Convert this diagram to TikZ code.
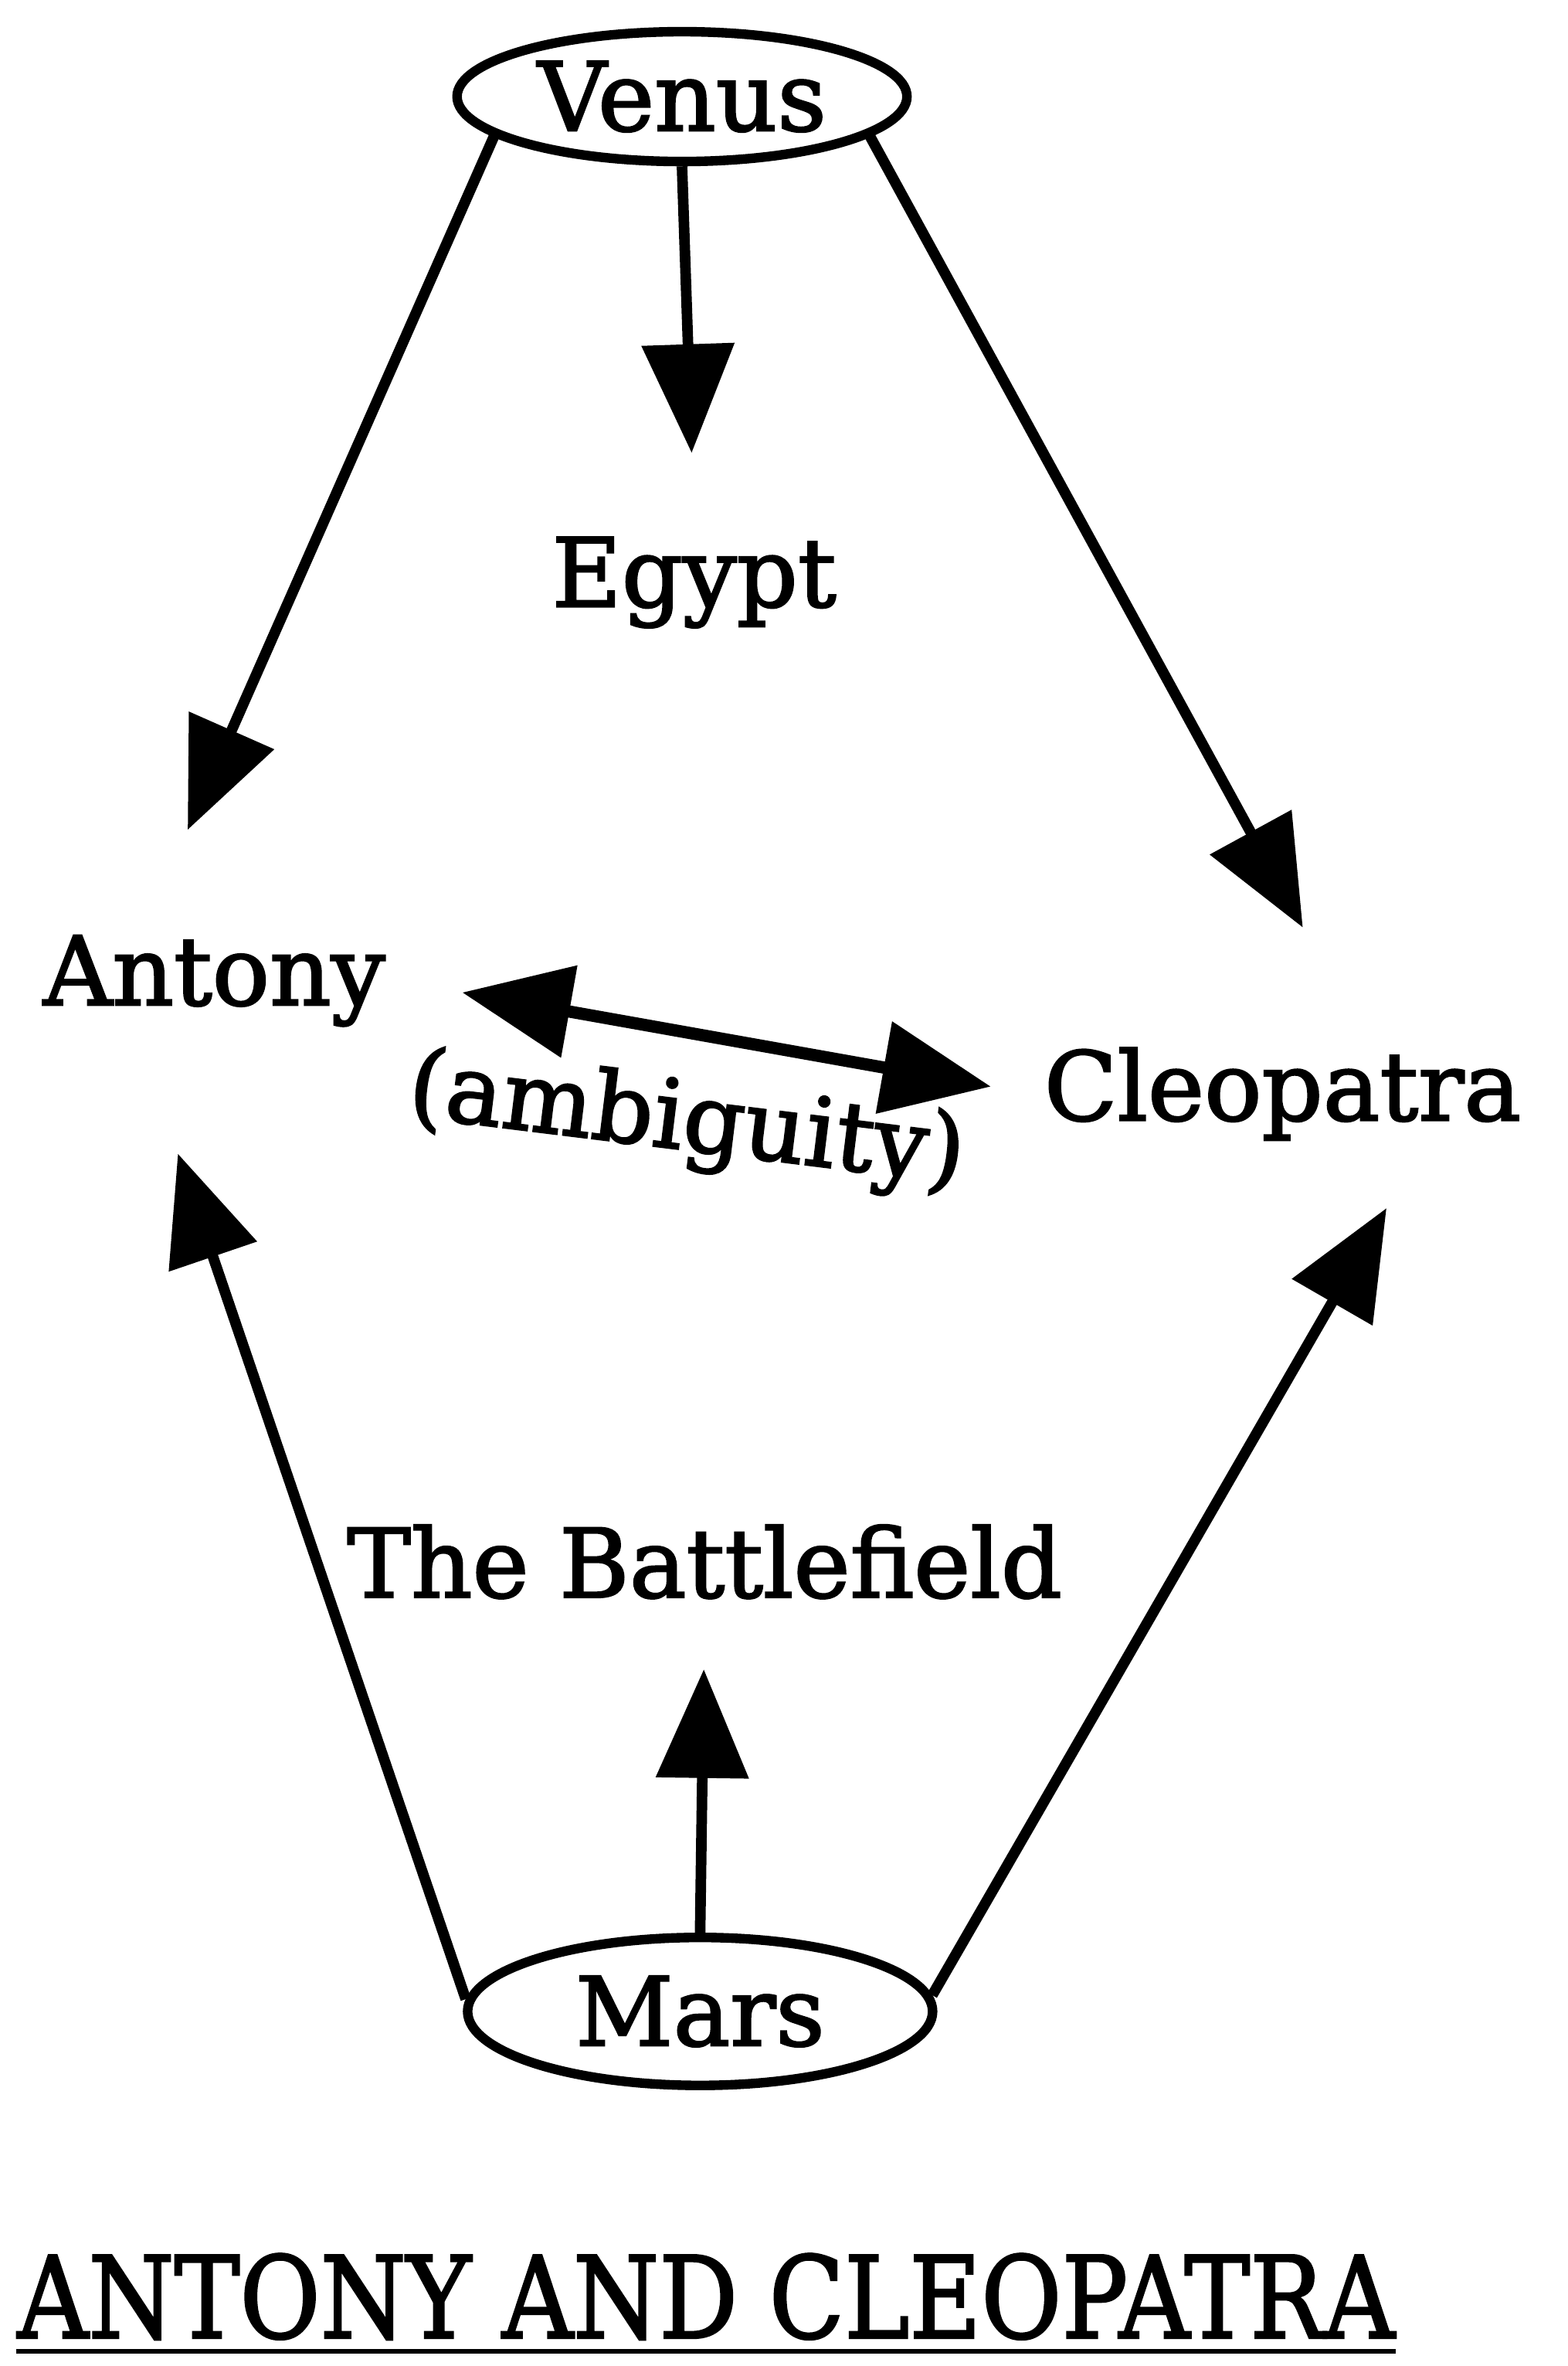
\documentclass[tikz,border=0pt]{standalone}
\usepackage{fontspec}
\setmainfont[FakeBold=2]{DejaVu Serif}
\usetikzlibrary{arrows.meta, shapes.geometric}

\begin{document}
\begin{tikzpicture}[x=0.01cm, y=-0.01cm,
  place/.style={font=\fontsize{18}{22}\selectfont, inner sep=2pt},
  god/.style={draw, ellipse, line width=1.8pt, inner sep=0pt, font=\fontsize{18}{22}\selectfont},
  arrow/.style={-{Triangle[length=7.2mm, width=6mm]}, line width=2pt},
  both/.style={{Triangle[length=7.2mm, width=6mm]}-{Triangle[length=7.2mm, width=6mm]}, line width=2.3pt}]

  \useasboundingbox (0,0) rectangle (1039,1568);

  % the two gods
  \node[god, minimum width=2.98cm, minimum height=0.86cm] (venus) at (452,64) {Venus};
  \node[god, minimum width=3.08cm, minimum height=0.98cm] (mars) at (464,1333) {Mars};

  % places and lovers
  \node[place] (egypt) at (460,386) {Egypt};
  \node[place] (antony) at (142,650) {Antony};
  \node[place] (cleo) at (850,725) {Cleopatra};
  \node[place] (battle) at (467,1035) {The Battlefield};
  \node[place, rotate=-7] (ambig) at (455,745) {(ambiguity)};

  % Venus rules love
  \draw[arrow, shorten >=4.8mm] (venus.south) -- (egypt.north);
  \draw[arrow, shorten >=6.8mm] (venus.192) -- (antony.140);
  \draw[arrow, shorten >=8.2mm] (venus.-12) -- (cleo.36);

  % Mars rules war
  \draw[arrow, shorten >=3.9mm] (mars.north) -- (battle.south);
  \draw[arrow, shorten >=8.1mm] (mars.177) -- (antony.-143);
  \draw[arrow, shorten >=4.3mm] (mars.4) -- (cleo.-23);

  % between the lovers
  \draw[both, shorten <=4.4mm, shorten >=2.8mm] (antony.east) -- (cleo.west);

  % title
  \node[inner xsep=0pt, inner ysep=2pt, font=\fontsize{21.4}{26}\selectfont]
    (title) at (468,1522) {\scalebox{0.865}[1]{ANTONY AND CLEOPATRA}};
  \draw[line width=0.9pt] (title.south west) -- (title.south east);

\end{tikzpicture}
\end{document}
